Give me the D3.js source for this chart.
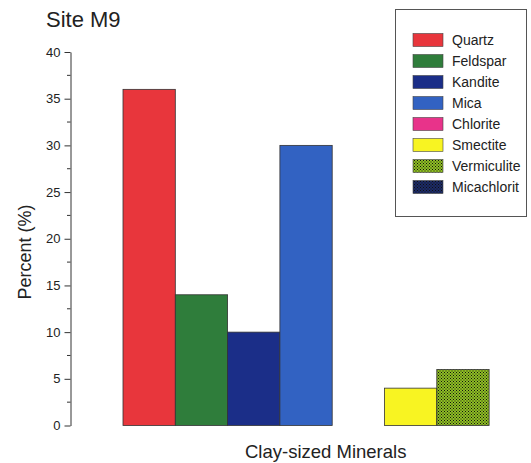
<!DOCTYPE html>
<html><head><meta charset="utf-8">
<script src="https://cdn.jsdelivr.net/npm/d3@7"></script>
<style>body{margin:0;background:#fff}svg{display:block}text{font-family:"Liberation Sans",Arial,sans-serif;fill:#222}</style>
</head><body>
<svg id="c" width="531" height="463"></svg>
<script>
const categories = ["Quartz","Feldspar","Kandite","Mica","Chlorite","Smectite","Vermiculite","Micachlorit"];
const values = [36, 14, 10, 30, 0, 4, 6, 0];
const colors = ["#e8363c","#2f7d3b","#1b2e88","#3262c2","#e8338a","#f8f422","#8fbf22","#1b2a66"];
const patterned = [false,false,false,false,false,false,true,true];
const yTicks = [0,5,10,15,20,25,30,35,40];

const svg = d3.select("#c");
const defs = svg.append("defs");
categories.forEach((c,i)=>{
  if(!patterned[i]) return;
  const p = defs.append("pattern").attr("id","pat"+i).attr("patternUnits","userSpaceOnUse").attr("width",3).attr("height",3);
  p.append("rect").attr("width",3).attr("height",3).attr("fill",colors[i]);
  p.append("rect").attr("x",0).attr("y",0).attr("width",1).attr("height",1).attr("fill","#111");
  p.append("rect").attr("x",1.5).attr("y",1.5).attr("width",1).attr("height",1).attr("fill","#111");
});
const fill = i => patterned[i] ? `url(#pat${i})` : colors[i];

const y = d3.scaleLinear().domain([0,40]).range([425.5,52]);
const x = d3.scaleBand().domain(categories).range([123,541.4]).padding(0);

// y axis
const ax = svg.append("g").attr("transform","translate(70.5,0)")
  .call(d3.axisLeft(y).tickValues(yTicks).tickSize(6).tickPadding(4).tickSizeOuter(0));
ax.select(".domain").attr("stroke","#333");
ax.selectAll(".tick line").attr("stroke","#333");
ax.selectAll(".tick text").style("font-size","13px").attr("fill","#333");
const minor = d3.range(2.5,40,5);
svg.append("g").selectAll("line").data(minor).join("line")
  .attr("x1",67).attr("x2",70.5).attr("y1",d=>y(d)).attr("y2",d=>y(d)).attr("stroke","#333");

// bars
svg.append("g").selectAll("rect").data(values).join("rect")
  .attr("x",(d,i)=>x(categories[i])).attr("width",x.bandwidth())
  .attr("y",d=>y(d)).attr("height",d=>y(0)-y(d))
  .attr("fill",(d,i)=>fill(i)).attr("stroke",(d)=>d>0?"#333":"none").attr("stroke-width",0.8);

// titles
svg.append("text").attr("x",46).attr("y",27).style("font-size","22px").text("Site M9");
svg.append("text").attr("transform","translate(31,252) rotate(-90)").attr("text-anchor","middle")
  .style("font-size","18px").text("Percent (%)");
svg.append("text").attr("x",245).attr("y",458)
  .style("font-size","18.5px").text("Clay-sized Minerals");

// legend
const lg = svg.append("g");
lg.append("rect").attr("x",395.5).attr("y",9.5).attr("width",131).attr("height",207)
  .attr("fill","#fff").attr("stroke","#555").attr("stroke-width",1);
const ly = d3.scalePoint().domain(categories).range([40,187]);
const items = lg.selectAll("g.it").data(categories).join("g").attr("class","it")
  .attr("transform",d=>`translate(0,${ly(d)})`);
items.append("rect").attr("x",413).attr("y",-6.5).attr("width",30).attr("height",13)
  .attr("fill",(d,i)=>fill(i)).attr("stroke","#444").attr("stroke-width",0.6);
items.append("text").attr("x",452).attr("y",5).style("font-size","14px").text(d=>d);
</script>
</body></html>
